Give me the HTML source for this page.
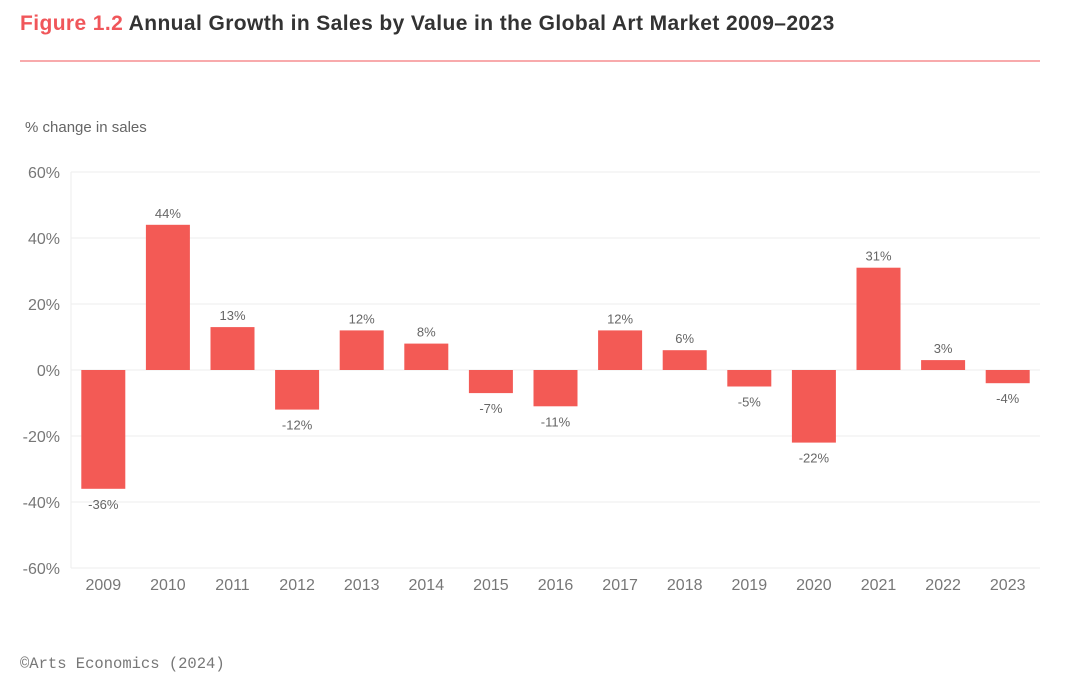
<!DOCTYPE html>
<html><head><meta charset="utf-8"><style>
body{margin:0;background:#fff;width:1080px;height:684px;overflow:hidden;font-family:"Liberation Sans",sans-serif}
</style></head><body>
<svg width="1080" height="684">
<text x="20" y="30" font-size="21" font-weight="bold" letter-spacing="0.4" fill="#333"><tspan fill="#f0565a">Figure 1.2</tspan> Annual Growth in Sales by Value in the Global Art Market 2009–2023</text>
<line x1="20" y1="61" x2="1040" y2="61" stroke="#f0565a" stroke-width="1"/>
<text x="25" y="132" font-size="15" fill="#666">% change in sales</text>
<g id="grid"></g><g id="bars"></g><g id="labels"></g>
<text x="20" y="668" font-size="15.5" fill="#777" font-family="Liberation Mono, monospace">©Arts Economics (2024)</text>
</svg>
<script>
const years=["2009","2010","2011","2012","2013","2014","2015","2016","2017","2018","2019","2020","2021","2022","2023"];
const values=[-36,44,13,-12,12,8,-7,-11,12,6,-5,-22,31,3,-4];
const ticks=[60,40,20,0,-20,-40,-60];
const NS="http://www.w3.org/2000/svg";
const L=71,R=1040,band=(R-L)/years.length,bw=44;
const y=v=>370-v*3.3;
const x=i=>L+band*(i+0.5);
function mk(t,a,p){const e=document.createElementNS(NS,t);for(const k in a)e.setAttribute(k,a[k]);document.getElementById(p).appendChild(e);return e;}
ticks.forEach(t=>{
  const g=mk("line",{x1:L,x2:R,y1:y(t),y2:y(t),stroke:"#eee","stroke-width":1},"grid");
  
  
  const tx=mk("text",{x:60,y:y(t)+6,"text-anchor":"end","font-size":16,fill:"#777"},"grid");
  tx.textContent=t+"%";
  
  
});
const ax=mk("line",{x1:L,x2:L,y1:y(60),y2:y(-60),stroke:"#eee"},"grid");


years.forEach((yr,i)=>{
  const v=values[i];
  const b=mk("rect",{x:x(i)-bw/2,y:Math.min(y(v),y(0)),width:bw,height:Math.abs(y(v)-y(0)),fill:"#f35a55"},"bars");
  
  
  const vl=mk("text",{x:x(i),y:v>=0?y(v)-7:y(v)+20,"text-anchor":"middle","font-size":13,fill:"#666"},"labels");
  vl.textContent=v+"%";
  
  
  const xl=mk("text",{x:x(i),y:590,"text-anchor":"middle","font-size":16,fill:"#777"},"labels");
  xl.textContent=yr;
  
  
});
</script>
</body></html>
